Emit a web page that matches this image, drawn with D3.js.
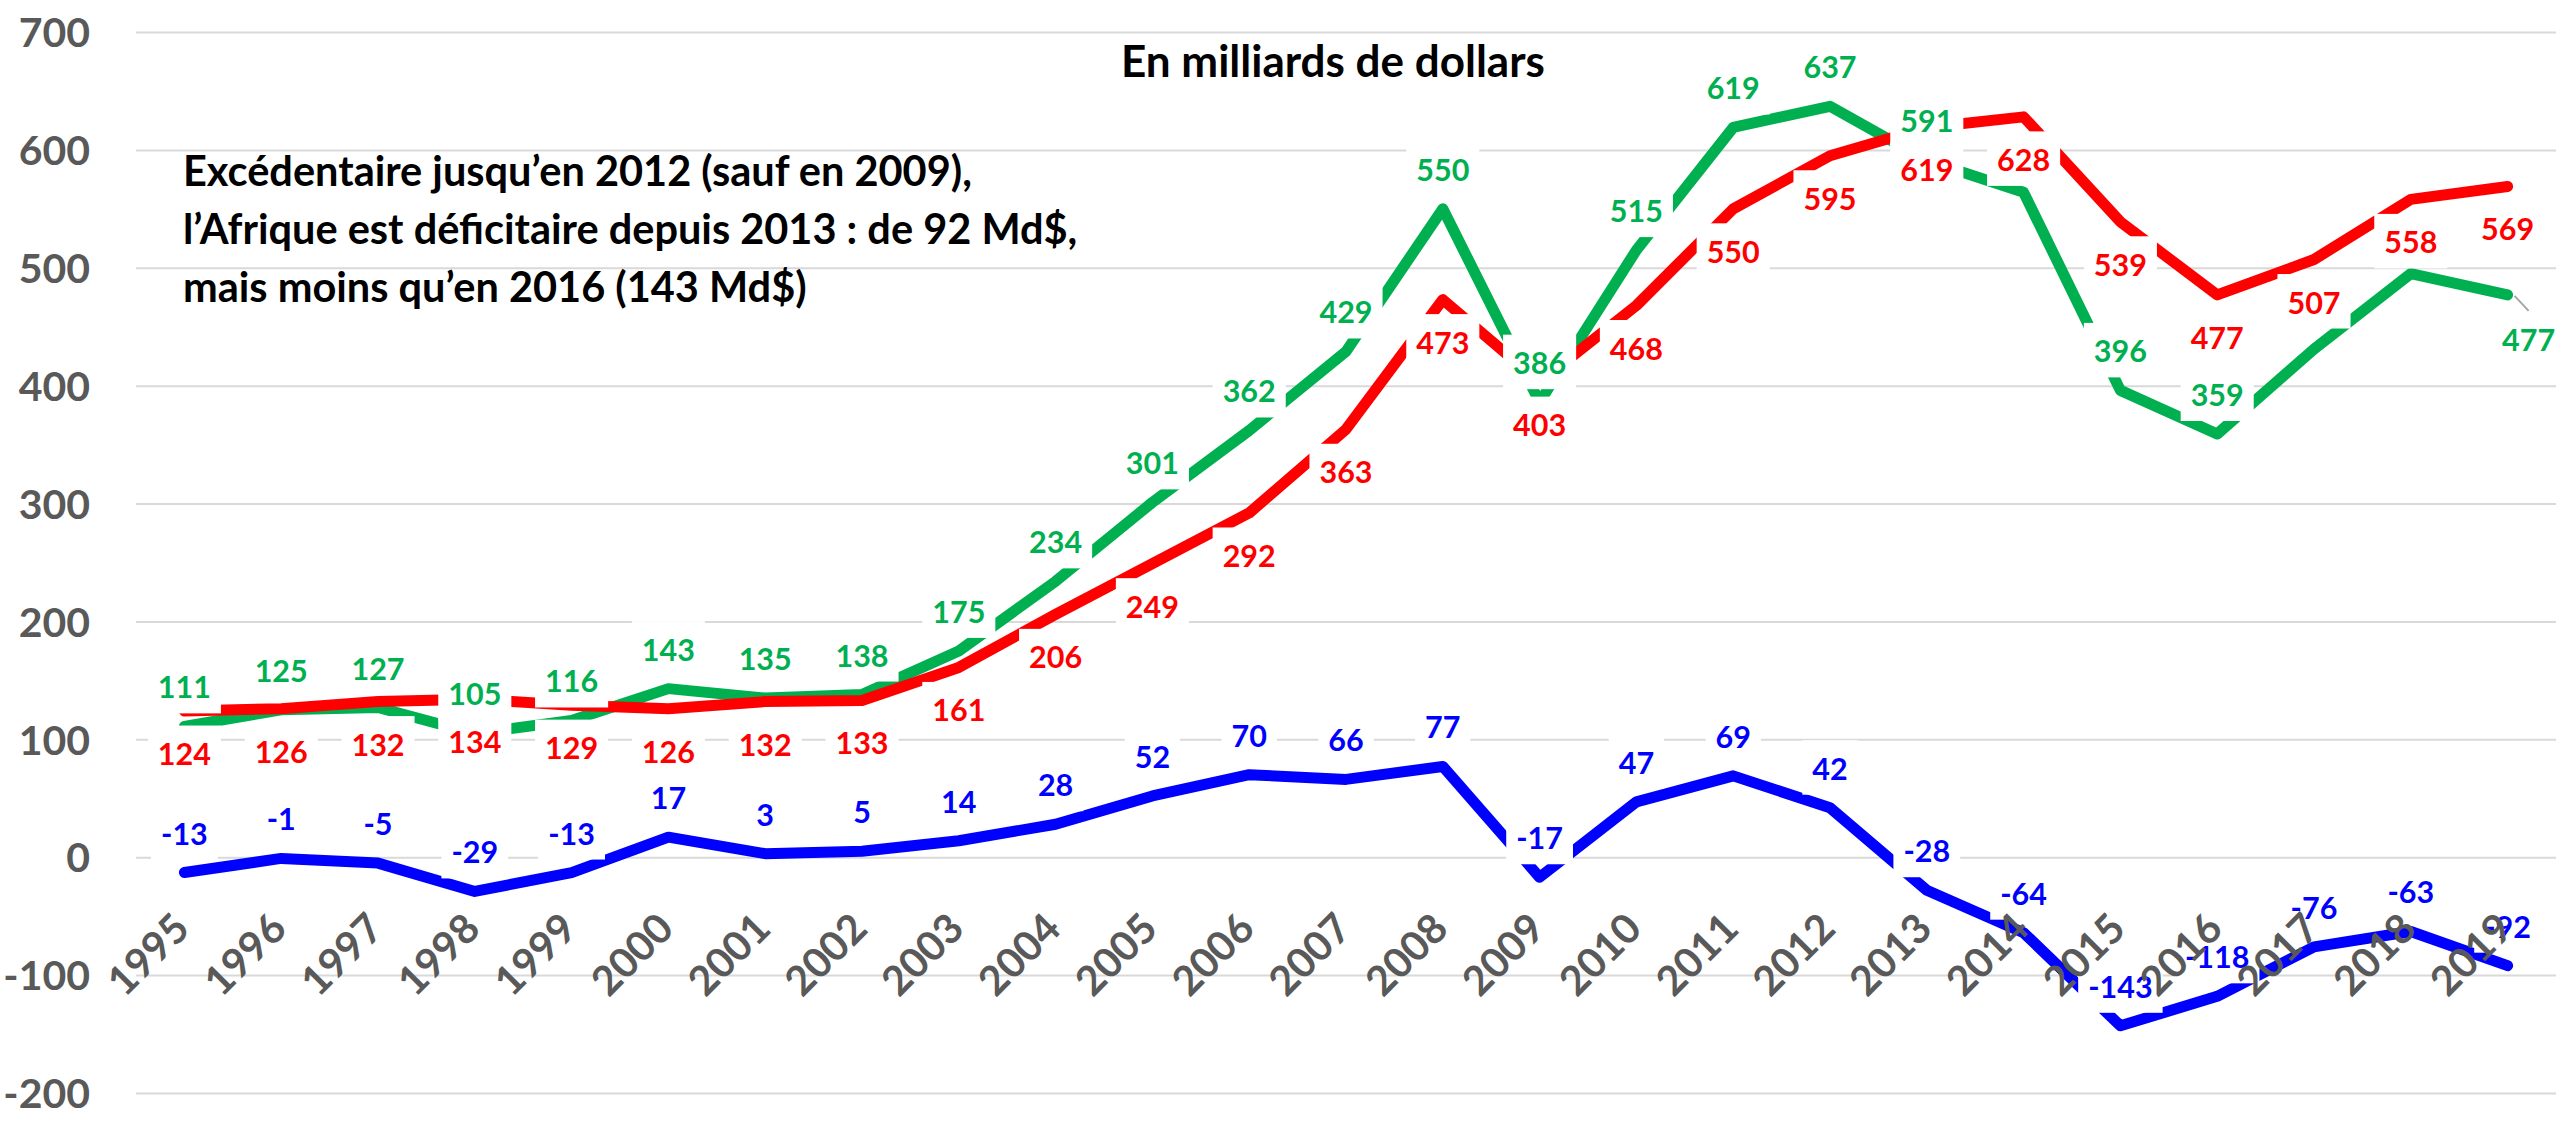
<!DOCTYPE html>
<html><head><meta charset="utf-8">
<script src="https://cdn.jsdelivr.net/npm/d3@7"></script>
<style>
html,body{margin:0;padding:0;background:#fff;}
svg{display:block;}
text{font-family:Lato,"Open Sans",sans-serif;font-weight:700;}
</style></head><body>
<svg id="chart" width="2560" height="1125"></svg>
<script>
// ---- data ----
const years = ["1995","1996","1997","1998","1999","2000","2001","2002","2003","2004","2005","2006","2007","2008","2009","2010","2011","2012","2013","2014","2015","2016","2017","2018","2019"];
const exportsData = [111,125,127,105,116,143,135,138,175,234,301,362,429,550,386,515,619,637,591,564,396,359,431,495,477];
const importsData = [124,126,132,134,129,126,132,133,161,206,249,292,363,473,403,468,550,595,619,628,539,477,507,558,569];
const balanceData = [-13,-1,-5,-29,-13,17,3,5,14,28,52,70,66,77,-17,47,69,42,-28,-64,-143,-118,-76,-63,-92];
const yTicks = [-200,-100,0,100,200,300,400,500,600,700];
const titleText = "En milliards de dollars";
const noteLines = ["Excédentaire jusqu’en 2012 (sauf en 2009),",
                   "l’Afrique est déficitaire depuis 2013 : de 92 Md$,",
                   "mais moins qu’en 2016 (143 Md$)"];

// ---- layout ----
const plotLeft = 136, plotRight = 2556, plotTop = 32, plotBottom = 1093;
const svg = d3.select("#chart");

const x = d3.scalePoint().domain(years).range([plotLeft, plotRight]).padding(0.5);
const y = d3.scaleLinear().domain([-200, 700]).range([plotBottom, plotTop]);

// gridlines + y labels
const yAxis = d3.axisLeft(y).tickValues(yTicks).tickSize(-(plotRight - plotLeft)).tickPadding(46);
const gy = svg.append("g").attr("transform", `translate(${plotLeft},0)`).call(yAxis);
gy.select(".domain").remove();
gy.selectAll(".tick line").attr("stroke", "#D9D9D9").attr("stroke-width", 2);
gy.selectAll(".tick text").attr("fill", "#595959").attr("font-size", 41)
  .attr("dy", "0.36em").style("font-family", "Lato").style("font-weight", 700)
  .text(d => d < 0 ? "-" + Math.abs(d) : d);

// series
const series = [
  {name: "exports", values: exportsData, color: "#00B050", pos: "above", skip: ["2014","2017","2018"]},
  {name: "imports", values: importsData, color: "#FF0000", pos: "below", skip: []},
  {name: "balance", values: balanceData, color: "#0000FF", pos: "above", skip: []}
];

const line = d3.line().x((d, i) => x(years[i])).y(d => y(d));
series.forEach(s => {
  svg.append("path").datum(s.values).attr("d", line)
    .attr("fill", "none").attr("stroke", s.color).attr("stroke-width", 11)
    .attr("stroke-linejoin", "round").attr("stroke-linecap", "round");
});

// data labels with white boxes
const labelLayer = svg.append("g");
series.forEach(s => {
  s.values.forEach((v, i) => {
    const yr = years[i];
    if (s.skip.includes(yr)) return;
    const px = x(yr), py = y(v);
    let lx = px, base = s.pos === "above" ? py - 28 : py + 54;
    let leader = null;
    if (s.name === "exports" && yr === "2019") {
      lx = px + 21; base = py + 56;
      leader = [[px + 7, py + 1], [px + 21, py + 16]];
    }
    const g = labelLayer.append("g");
    const rect = g.append("rect").attr("fill", "#fff");
    const t = g.append("text").attr("x", lx).attr("y", base)
      .attr("text-anchor", "middle").attr("font-size", 30.5).attr("fill", s.color)
      .text(v < 0 ? "-" + Math.abs(v) : v);
    const w = t.node().getComputedTextLength();
    rect.attr("x", lx - w / 2 - 10).attr("width", w + 20)
      .attr("y", base - 39.5).attr("height", 54.5);
    if (leader) {
      labelLayer.append("line").attr("x1", leader[0][0]).attr("y1", leader[0][1])
        .attr("x2", leader[1][0]).attr("y2", leader[1][1])
        .attr("stroke", "#A6A6A6").attr("stroke-width", 2);
    }
  });
});

// x axis labels (rotated)
const xAxis = d3.axisBottom(x).tickSize(0).tickPadding(0);
const gx = svg.append("g").attr("transform", "translate(0,931)").call(xAxis);
gx.select(".domain").remove();
gx.selectAll(".tick text").attr("y", 0).attr("dy", 0)
  .attr("transform", "translate(7,0) rotate(-45)")
  .attr("text-anchor", "end").attr("fill", "#595959").attr("font-size", 41)
  .style("font-family", "Lato").style("font-weight", 700);

// title and note
svg.append("text").attr("x", 1121).attr("y", 77).attr("font-size", 44).attr("fill", "#000").text(titleText);
svg.append("g").selectAll("text").data(noteLines).join("text")
  .attr("x", 183).attr("y", (d, i) => 186 + i * 58)
  .attr("font-size", 41.5).attr("fill", "#000").text(d => d);
</script>
</body></html>
